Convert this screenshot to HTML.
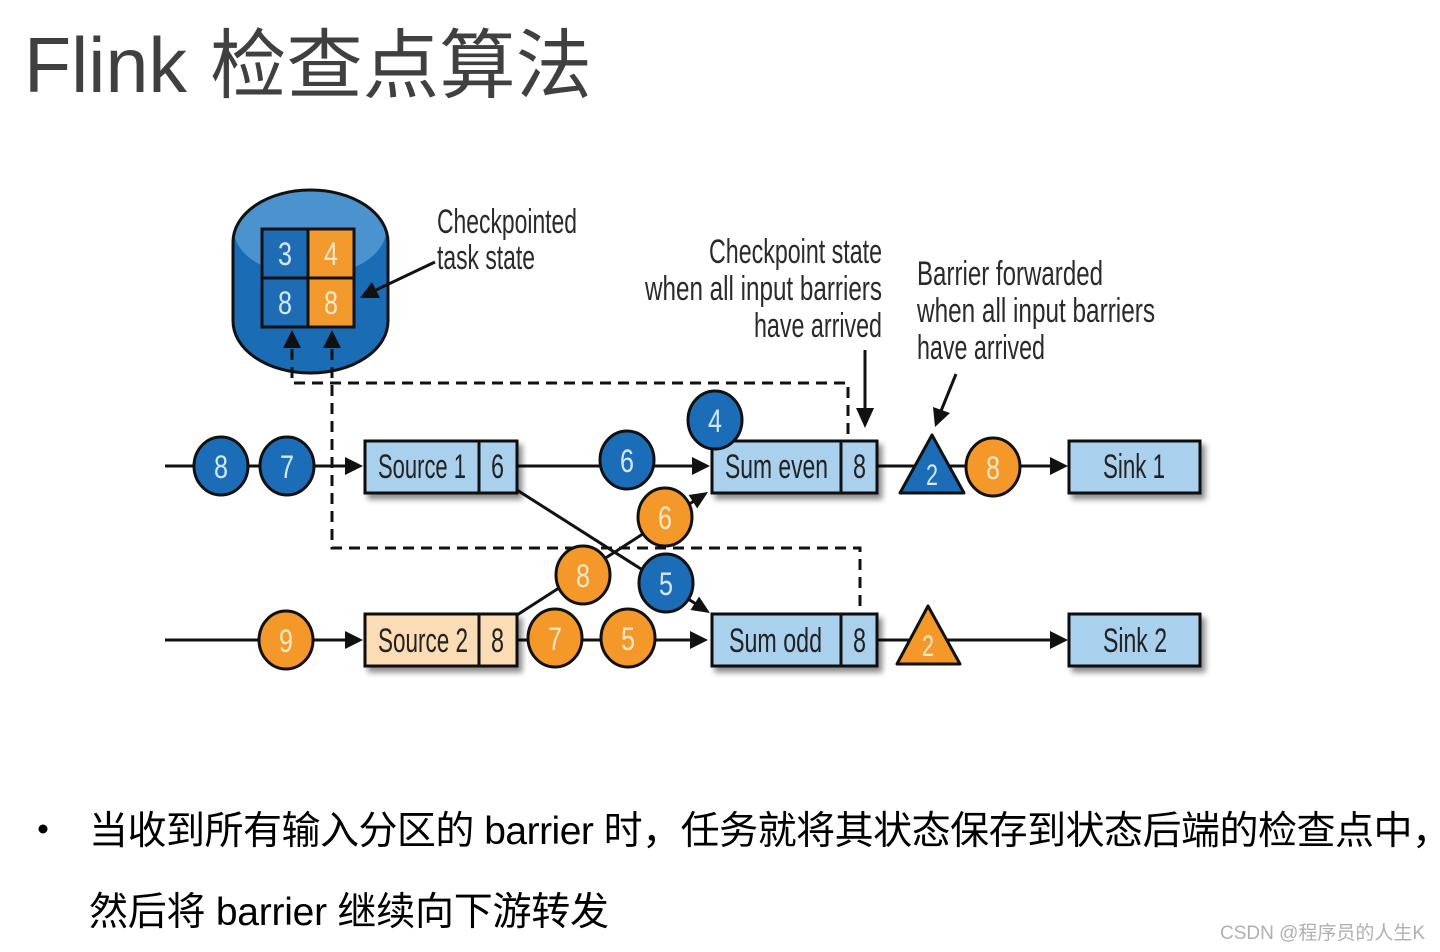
<!DOCTYPE html>
<html><head><meta charset="utf-8"><style>
html,body{margin:0;padding:0;background:#fff;}
svg{display:block;}
.c{font-family:"Liberation Sans Narrow","Liberation Sans",sans-serif;}
.cj{font-family:"Liberation Sans","Noto Sans CJK SC",sans-serif;}
</style></head><body>
<svg width="1440" height="952" viewBox="0 0 1440 952" xmlns="http://www.w3.org/2000/svg">
<defs>
<filter id="sh" x="-10%" y="-20%" width="130%" height="160%">
<feDropShadow dx="4" dy="5" stdDeviation="3" flood-color="#000" flood-opacity="0.45"/>
</filter>
<clipPath id="cyl"><rect x="233" y="190" width="155" height="183" rx="77" ry="52"/></clipPath>
</defs>

<!-- Title -->
<text class="cj" x="24" y="92" font-size="78" fill="#404040" textLength="163" lengthAdjust="spacingAndGlyphs">Flink</text>
<text class="cj" x="210" y="92" font-size="76" fill="#404040" textLength="382" lengthAdjust="spacingAndGlyphs">检查点算法</text>

<!-- Cylinder -->
<rect x="233" y="190" width="155" height="183" rx="77" ry="52" fill="#1a6db5"/>
<g clip-path="url(#cyl)"><ellipse cx="310" cy="230" rx="76" ry="46" fill="#4a93cf"/></g>
<rect x="233" y="190" width="155" height="183" rx="77" ry="52" fill="none" stroke="#111" stroke-width="3"/>
<rect x="262" y="229" width="46" height="49" fill="#1e6cb4"/>
<rect x="308" y="229" width="46" height="49" fill="#f39a2e"/>
<rect x="262" y="278" width="46" height="49" fill="#1e6cb4"/>
<rect x="308" y="278" width="46" height="49" fill="#f39a2e"/>
<rect x="262" y="229" width="92" height="98" fill="none" stroke="#111" stroke-width="3"/>
<line x1="308" y1="229" x2="308" y2="327" stroke="#111" stroke-width="3"/>
<line x1="262" y1="278" x2="354" y2="278" stroke="#111" stroke-width="3"/>
<g class="c" font-size="32">
<text x="278" y="265" fill="#d4e8f8" textLength="14" lengthAdjust="spacingAndGlyphs">3</text>
<text x="324" y="265" fill="#fde8c8" textLength="14" lengthAdjust="spacingAndGlyphs">4</text>
<text x="278" y="314" fill="#d4e8f8" textLength="14" lengthAdjust="spacingAndGlyphs">8</text>
<text x="324" y="314" fill="#fde8c8" textLength="14" lengthAdjust="spacingAndGlyphs">8</text>
</g>
<polygon points="292,330 283,348 301,348" fill="#111"/>
<polygon points="332,330 323,348 341,348" fill="#111"/>

<!-- Dashed lines -->
<g fill="none" stroke="#111" stroke-width="3" stroke-dasharray="11 7">
<path d="M292,349 V383 H848 V440"/>
<path d="M332,349 V548 H860 V614"/>
</g>

<!-- Annotation arrows -->
<line x1="435" y1="262" x2="376" y2="290" stroke="#111" stroke-width="3"/>
<polygon points="360,298 380,298 372,282" fill="#111"/>
<line x1="865" y1="350" x2="865" y2="410" stroke="#111" stroke-width="3"/>
<polygon points="856,408 874,408 865,428" fill="#111"/>
<line x1="956" y1="374" x2="941" y2="411" stroke="#111" stroke-width="3"/>
<polygon points="935,427 950,413 933,407" fill="#111"/>

<!-- Annotation texts -->
<g class="c" font-size="34" fill="#2a2a2a">
<text x="437" y="233" textLength="140" lengthAdjust="spacingAndGlyphs">Checkpointed</text>
<text x="437" y="269" textLength="98" lengthAdjust="spacingAndGlyphs">task state</text>
<text x="709" y="263" textLength="173" lengthAdjust="spacingAndGlyphs">Checkpoint state</text>
<text x="645" y="300" textLength="237" lengthAdjust="spacingAndGlyphs">when all input barriers</text>
<text x="754" y="337" textLength="128" lengthAdjust="spacingAndGlyphs">have arrived</text>
<text x="917" y="285" textLength="186" lengthAdjust="spacingAndGlyphs">Barrier forwarded</text>
<text x="917" y="322" textLength="238" lengthAdjust="spacingAndGlyphs">when all input barriers</text>
<text x="917" y="359" textLength="128" lengthAdjust="spacingAndGlyphs">have arrived</text>
</g>

<!-- Solid connectors -->
<g stroke="#111" stroke-width="3" fill="none">
<line x1="165" y1="466" x2="348" y2="466"/>
<line x1="517" y1="466" x2="695" y2="466"/>
<line x1="877" y1="466" x2="1053" y2="466"/>
<line x1="165" y1="640" x2="348" y2="640"/>
<line x1="517" y1="640" x2="693" y2="640"/>
<line x1="877" y1="640" x2="1053" y2="640"/>
<line x1="517" y1="490" x2="696" y2="604"/>
<line x1="517" y1="615" x2="694" y2="501"/>
</g>
<g fill="#111">
<polygon points="363,466 345,457 345,475"/>
<polygon points="710,466 692,457 692,475"/>
<polygon points="1068,466 1050,457 1050,475"/>
<polygon points="363,640 345,631 345,649"/>
<polygon points="708,640 690,631 690,649"/>
<polygon points="1068,640 1050,631 1050,649"/>
<polygon points="710,613 690.5,610 699.1,596.6"/>
<polygon points="708,492 697.2,508.4 688.6,495"/>
</g>

<!-- Boxes -->
<g stroke="#111" stroke-width="3">
<rect x="365" y="441" width="152" height="52" fill="#a9d0ec" filter="url(#sh)"/>
<rect x="365" y="614" width="152" height="52" fill="#fbdcb5" filter="url(#sh)"/>
<rect x="712" y="441" width="165" height="52" fill="#a9d0ec" filter="url(#sh)"/>
<rect x="712" y="614" width="165" height="52" fill="#a9d0ec" filter="url(#sh)"/>
<rect x="1069" y="441" width="131" height="52" fill="#a9d0ec" filter="url(#sh)"/>
<rect x="1069" y="614" width="131" height="52" fill="#a9d0ec" filter="url(#sh)"/>
<line x1="479" y1="441" x2="479" y2="493"/>
<line x1="479" y1="614" x2="479" y2="666"/>
<line x1="841" y1="441" x2="841" y2="493"/>
<line x1="841" y1="614" x2="841" y2="666"/>
</g>
<g class="c" font-size="34" fill="#222">
<text x="378" y="478" textLength="88" lengthAdjust="spacingAndGlyphs">Source 1</text>
<text x="491" y="478" textLength="13" lengthAdjust="spacingAndGlyphs">6</text>
<text x="378" y="652" textLength="90" lengthAdjust="spacingAndGlyphs">Source 2</text>
<text x="491" y="652" textLength="13" lengthAdjust="spacingAndGlyphs">8</text>
<text x="725" y="478" textLength="103" lengthAdjust="spacingAndGlyphs">Sum even</text>
<text x="853" y="478" textLength="13" lengthAdjust="spacingAndGlyphs">8</text>
<text x="729" y="652" textLength="93" lengthAdjust="spacingAndGlyphs">Sum odd</text>
<text x="853" y="652" textLength="13" lengthAdjust="spacingAndGlyphs">8</text>
<text x="1103" y="478" textLength="62" lengthAdjust="spacingAndGlyphs">Sink 1</text>
<text x="1103" y="652" textLength="64" lengthAdjust="spacingAndGlyphs">Sink 2</text>
</g>

<!-- Triangles -->
<polygon points="932,435 900,493 964,493" fill="#1b6db8" stroke="#111" stroke-width="3" stroke-linejoin="round"/>
<polygon points="928,606 897,664 960,664" fill="#f5982a" stroke="#111" stroke-width="3" stroke-linejoin="round"/>
<g class="c" font-size="30">
<text x="926" y="485" fill="#d4e8f8" textLength="12" lengthAdjust="spacingAndGlyphs">2</text>
<text x="922" y="656" fill="#fde8c8" textLength="12" lengthAdjust="spacingAndGlyphs">2</text>
</g>

<!-- Circles -->
<g stroke="#111" stroke-width="3">
<ellipse cx="221" cy="466" rx="27" ry="29" fill="#1b6db8"/>
<ellipse cx="287" cy="466" rx="27" ry="29" fill="#1b6db8"/>
<ellipse cx="627" cy="460" rx="27" ry="29" fill="#1b6db8"/>
<ellipse cx="715" cy="420" rx="27" ry="29" fill="#1b6db8"/>
<ellipse cx="665" cy="517" rx="27" ry="29" fill="#f5982a"/>
<ellipse cx="583" cy="575" rx="27" ry="29" fill="#f5982a"/>
<ellipse cx="666" cy="583" rx="27" ry="29" fill="#1b6db8"/>
<ellipse cx="555" cy="638" rx="27" ry="29" fill="#f5982a"/>
<ellipse cx="628" cy="638" rx="27" ry="29" fill="#f5982a"/>
<ellipse cx="286" cy="640" rx="27" ry="29" fill="#f5982a"/>
<ellipse cx="993" cy="467" rx="27" ry="29" fill="#f5982a"/>
</g>
<g class="c" font-size="32">
<text x="214" y="478" fill="#d4e8f8" textLength="14" lengthAdjust="spacingAndGlyphs">8</text>
<text x="280" y="478" fill="#d4e8f8" textLength="14" lengthAdjust="spacingAndGlyphs">7</text>
<text x="620" y="472" fill="#d4e8f8" textLength="14" lengthAdjust="spacingAndGlyphs">6</text>
<text x="708" y="432" fill="#d4e8f8" textLength="14" lengthAdjust="spacingAndGlyphs">4</text>
<text x="658" y="529" fill="#fde8c8" textLength="14" lengthAdjust="spacingAndGlyphs">6</text>
<text x="576" y="587" fill="#fde8c8" textLength="14" lengthAdjust="spacingAndGlyphs">8</text>
<text x="659" y="595" fill="#d4e8f8" textLength="14" lengthAdjust="spacingAndGlyphs">5</text>
<text x="548" y="650" fill="#fde8c8" textLength="14" lengthAdjust="spacingAndGlyphs">7</text>
<text x="621" y="650" fill="#fde8c8" textLength="14" lengthAdjust="spacingAndGlyphs">5</text>
<text x="279" y="652" fill="#fde8c8" textLength="14" lengthAdjust="spacingAndGlyphs">9</text>
<text x="986" y="479" fill="#fde8c8" textLength="14" lengthAdjust="spacingAndGlyphs">8</text>
</g>

<!-- Bottom text -->
<circle cx="43" cy="829" r="4.5" fill="#000"/>
<text class="cj" x="89" y="844" font-size="39" fill="#000" textLength="1362" lengthAdjust="spacing">当收到所有输入分区的 barrier 时，任务就将其状态保存到状态后端的检查点中，</text>
<text class="cj" x="89" y="925" font-size="39" fill="#000" textLength="520" lengthAdjust="spacing">然后将 barrier 继续向下游转发</text>

<!-- Watermark -->
<text class="cj" x="1220" y="939" font-size="19" fill="#b0b0b0" textLength="205" lengthAdjust="spacingAndGlyphs">CSDN @程序员的人生K</text>
</svg>
</body></html>
